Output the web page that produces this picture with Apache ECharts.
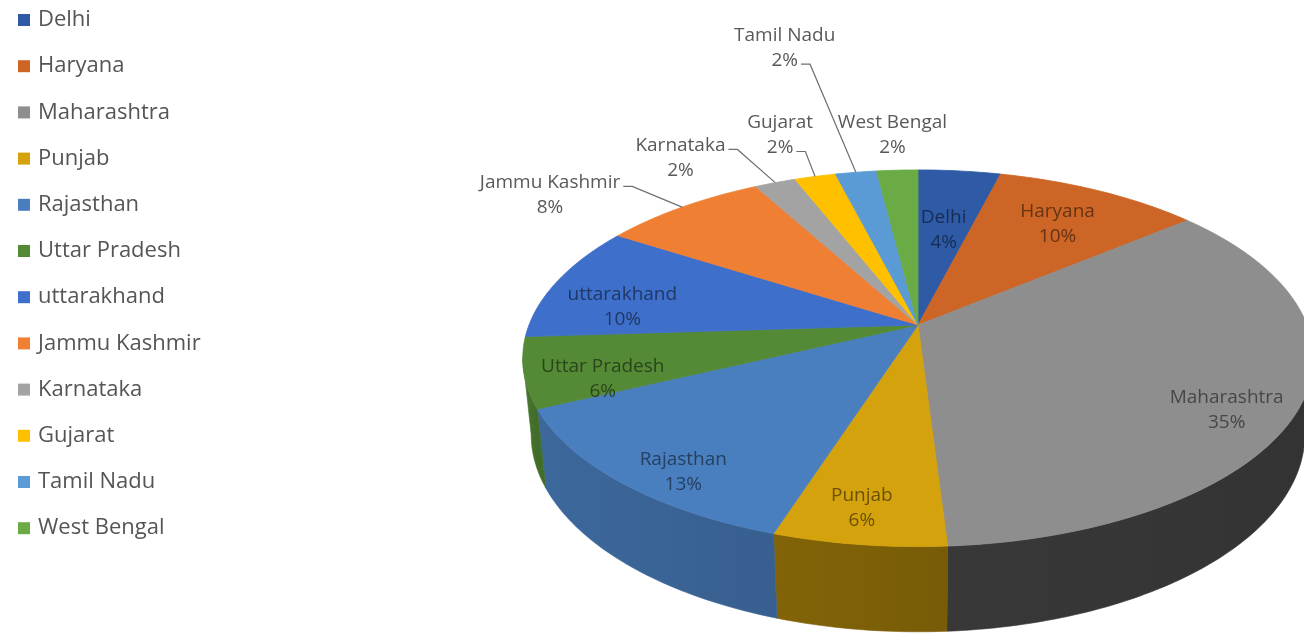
<!DOCTYPE html>
<html>
<head>
<meta charset="utf-8">
<script src="https://cdn.jsdelivr.net/npm/echarts@6/dist/echarts.min.js"></script>
<style>
  html, body { margin: 0; padding: 0; background: #fff; }
  #main { width: 1304px; height: 634px; }
</style>
</head>
<body>
<div id="main"></div>
<script>
// slices, clockwise from 12 o'clock
const states = ['Delhi', 'Haryana', 'Maharashtra', 'Punjab', 'Rajasthan', 'Uttar Pradesh',
  'uttarakhand', 'Jammu Kashmir', 'Karnataka', 'Gujarat', 'Tamil Nadu', 'West Bengal'];
const shares = [4, 10, 35, 6, 13, 6, 10, 8, 2, 2, 2, 2];

const sliceColors = ['#2e5aa6', '#cc6525', '#8e8e8e', '#d4a20c', '#4a7fbf', '#548a36',
  '#3e6fca', '#ef7f33', '#a3a3a3', '#ffc000', '#5b9bd5', '#6aab45'];

// label placement: angle nudge from slice middle (deg), distance as share of radius
const labelTurn = [0, 0.6, 7, 1, -4.5, -5.7, -7, -9.8, -8.5, -0.8, -1.9, 0];
const labelReach = [0.58, 0.73, 0.85, 0.86, 0.88, 0.82, 0.78, 1.355, 1.313, 1.348, 2.13, 1.28];
// which text row the leader line hangs from (-1 = none)
const leaderRow = [-1, -1, -1, -1, -1, -1, -1, 0, 0, 1, 1, -1];

// 3d pie view
const CX = 918, CY = 325, RX = 389;
const TILT_SIN = 0.469, TILT_COS = 0.883;
const PERSP = 0.2;    // radius / camera distance
const DEPTH = 0.223;  // side height / radius
const LIGHT = [-0.894, 0.447]; // comes from the left, a bit from the front
const FONT = '19px "Open Sans", sans-serif';

const total = shares.reduce((a, b) => a + b, 0);
const startDeg = [];
let acc = 0;
shares.forEach(v => { startDeg.push(acc / total * 360); acc += v; });

function project(deg, reach, drop) {
  const t = deg * Math.PI / 180;
  const u = reach * Math.sin(t), v = -reach * Math.cos(t);
  const den = 1 - v * PERSP * TILT_COS + drop * PERSP * TILT_SIN;
  return [CX + RX * u / den, CY + RX * (v * TILT_SIN + drop * TILT_COS) / den];
}

function arc(a0, a1, drop) {
  const n = Math.max(2, Math.ceil(Math.abs(a1 - a0)));
  const pts = [];
  for (let k = 0; k <= n; k++) pts.push(project(a0 + (a1 - a0) * k / n, 1, drop));
  return pts;
}

function shade(hex, f) {
  const n = parseInt(hex.slice(1), 16);
  const c = [n >> 16, (n >> 8) & 255, n & 255].map(x => Math.min(255, Math.round(x * f)));
  return 'rgb(' + c.join(',') + ')';
}

function wallLight(deg) {
  const t = deg * Math.PI / 180;
  const dot = Math.max(0, Math.sin(t) * LIGHT[0] - Math.cos(t) * LIGHT[1]);
  return 0.38 + 0.45 * Math.pow(dot, 1.3);
}

const measureCtx = document.createElement('canvas').getContext('2d');
measureCtx.font = FONT;

function renderWall(params, api) {
  const i = params.dataIndex;
  const a0 = Math.max(startDeg[i], 100);
  const a1 = Math.min(startDeg[i] + api.value(0) / total * 360, 260);
  if (a1 <= a0) return;
  const top = arc(a0, a1, 0);
  const bottom = arc(a1, a0, DEPTH);
  const x0 = top[0][0], x1 = top[top.length - 1][0];
  const f = wallLight((a0 + a1) / 2);
  const stops = [
    { offset: 0, color: shade(sliceColors[i], f * 0.95) },
    { offset: 0.5, color: shade(sliceColors[i], f) },
    { offset: 1, color: shade(sliceColors[i], f * 1.04) }
  ];
  return {
    type: 'polygon',
    shape: { points: top.concat(bottom) },
    style: {
      fill: new echarts.graphic.LinearGradient(x0, 0, x1, 0, stops, true),
      stroke: new echarts.graphic.LinearGradient(x0, 0, x1, 0, stops, true),
      lineWidth: 0.6
    }
  };
}

function renderTop(params, api) {
  const i = params.dataIndex;
  const share = api.value(0);
  const a0 = startDeg[i], a1 = a0 + share / total * 360;
  const children = [{
    type: 'polygon',
    shape: { points: [[CX, CY]].concat(arc(a0, a1, 0)) },
    style: { fill: sliceColors[i], stroke: sliceColors[i], lineWidth: 0.8 }
  }];
  const mid = (a0 + a1) / 2;
  const at = project(mid + labelTurn[i], labelReach[i], 0);
  const outside = labelReach[i] > 1;
  const lines = [states[i], Math.round(share / total * 100) + '%'];
  children.push({
    type: 'text',
    x: at[0], y: at[1], z2: 10,
    style: {
      text: lines.join('\n'),
      font: FONT,
      fill: outside ? '#595959' : shade(sliceColors[i], 0.5),
      align: 'center',
      verticalAlign: 'middle',
      lineHeight: 25
    }
  });
  if (leaderRow[i] >= 0) {
    const row = leaderRow[i];
    const w = measureCtx.measureText(lines[row]).width;
    const sx = at[0] + w / 2 + 3;
    const sy = at[1] + (row === 0 ? -12.5 : 12.5) + 4;
    const end = project(mid, 1, 0);
    children.push({
      type: 'polyline', z2: 10,
      shape: { points: [[sx, sy], [sx + 9, sy], end] },
      style: { stroke: '#6f6f6f', lineWidth: 1.2, fill: null }
    });
  }
  return { type: 'group', children };
}

const chart = echarts.init(document.getElementById('main'), null, { renderer: 'canvas' });
chart.setOption({
  animation: false,
  legend: {
    orient: 'vertical',
    left: 13,
    top: 4,
    icon: 'rect',
    itemWidth: 12,
    itemHeight: 12,
    itemGap: 24.2,
    selectedMode: false,
    data: states,
    textStyle: { fontFamily: 'Open Sans', fontSize: 22, color: '#555', lineHeight: 20, padding: [0, 0, 0, 3] }
  },
  series: [
    {
      // only feeds the legend
      type: 'pie',
      radius: 0,
      center: [-50, -50],
      silent: true,
      label: { show: false },
      labelLine: { show: false },
      data: states.map((n, i) => ({ name: n, value: shares[i], itemStyle: { color: sliceColors[i] } }))
    },
    {
      type: 'custom',
      coordinateSystem: 'none',
      silent: true,
      z: 1,
      renderItem: renderWall,
      data: shares
    },
    {
      type: 'custom',
      coordinateSystem: 'none',
      silent: true,
      z: 2,
      renderItem: renderTop,
      data: shares
    }
  ]
});
</script>
</body>
</html>
